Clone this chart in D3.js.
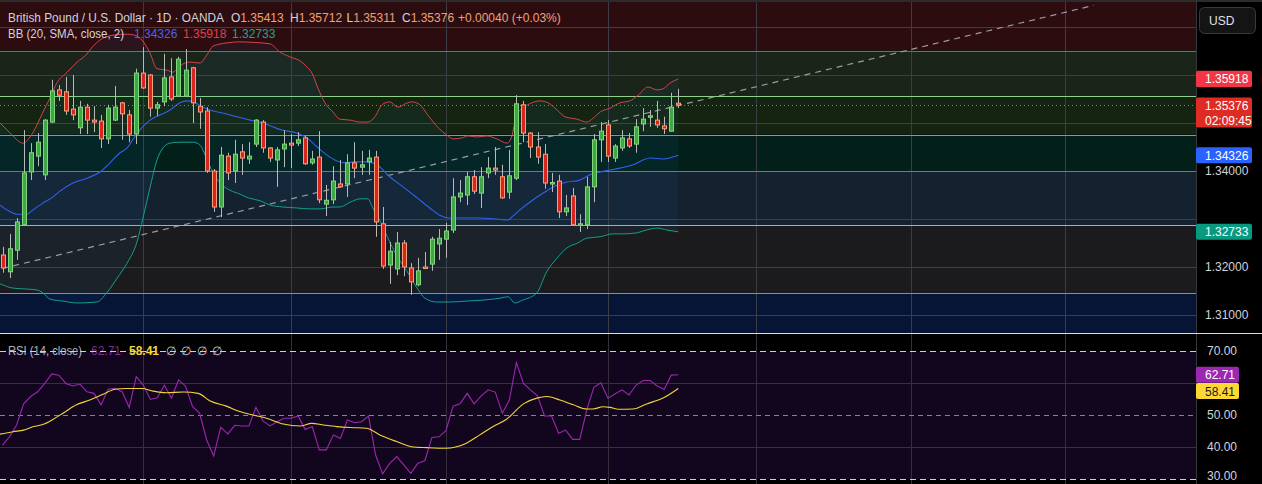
<!DOCTYPE html>
<html><head><meta charset="utf-8">
<script src="https://cdn.jsdelivr.net/npm/d3@7"></script>
<style>
html,body{margin:0;padding:0;background:#000;overflow:hidden}
svg{display:block}
text{font-family:"Liberation Sans",Arial,sans-serif}
</style>
</head><body>
<svg id="c" width="1262" height="484"></svg>
<script>
// ---------- DATA ----------
const opens=[1.3225,1.3190,1.3235,1.3288,1.3398,1.3431,1.3392,1.3502,1.3569,1.3565,1.3529,1.3490,1.3533,1.3506,1.3504,1.3467,1.3506,1.3542,1.3517,1.3477,1.3604,1.3600,1.3531,1.3544,1.3596,1.3556,1.3556,1.3615,1.3535,1.3525,1.3400,1.3325,1.3431,1.3400,1.3440,1.3425,1.3456,1.3502,1.3448,1.3423,1.3446,1.3458,1.3458,1.3469,1.3417,1.3429,1.3331,1.3340,1.3373,1.3373,1.3417,1.3408,1.3419,1.3429,1.3290,1.3204,1.3196,1.3250,1.3198,1.3163,1.3200,1.3206,1.3248,1.3258,1.3277,1.3346,1.3350,1.3388,1.3354,1.3396,1.3406,1.3388,1.3356,1.3385,1.3538,1.3479,1.3450,1.3435,1.3374,1.3379,1.3315,1.3348,1.3288,1.3288,1.3367,1.3465,1.3496,1.3427,1.3448,1.3467,1.3456,1.3498,1.3514,1.3506,1.3494,1.3483,1.35413];
const highs=[1.3242,1.3269,1.3302,1.3485,1.3458,1.3479,1.3508,1.3590,1.3579,1.3596,1.3600,1.3546,1.3540,1.3535,1.3517,1.3538,1.3577,1.3544,1.3527,1.3613,1.3658,1.3602,1.3544,1.3644,1.3635,1.3638,1.3654,1.3617,1.3552,1.3533,1.3404,1.3450,1.3438,1.3465,1.3456,1.3460,1.3508,1.3506,1.3450,1.3450,1.3485,1.3477,1.3481,1.3473,1.3442,1.3483,1.3371,1.3410,1.3423,1.3435,1.3460,1.3442,1.3444,1.3442,1.3325,1.3252,1.3273,1.3256,1.3208,1.3219,1.3231,1.3263,1.3279,1.3292,1.3385,1.3381,1.3398,1.3402,1.3408,1.3429,1.3450,1.3413,1.3444,1.3558,1.3546,1.3481,1.3481,1.3456,1.3396,1.3392,1.3350,1.3365,1.3310,1.3388,1.3477,1.3502,1.3506,1.3456,1.3485,1.3479,1.3508,1.3531,1.3527,1.3546,1.3513,1.3563,1.35712];
const lows=[1.3188,1.3177,1.3215,1.3286,1.3381,1.3410,1.3381,1.3500,1.3546,1.3517,1.3506,1.3477,1.3477,1.3481,1.3448,1.3456,1.3504,1.3465,1.3460,1.3456,1.3571,1.3513,1.3515,1.3535,1.3546,1.3554,1.3554,1.3500,1.3488,1.3396,1.3315,1.3304,1.3381,1.3375,1.3392,1.3415,1.3450,1.3438,1.3419,1.3367,1.3408,1.3406,1.3452,1.3413,1.3413,1.3333,1.3306,1.3331,1.3365,1.3346,1.3385,1.3392,1.3392,1.3263,1.3196,1.3165,1.3183,1.3181,1.3142,1.3160,1.3196,1.3192,1.3215,1.3219,1.3271,1.3335,1.3329,1.3352,1.3323,1.3385,1.3392,1.3342,1.3342,1.3381,1.3460,1.3427,1.3415,1.3363,1.3356,1.3302,1.3306,1.3287,1.3273,1.3279,1.3335,1.3419,1.3419,1.3419,1.3442,1.3448,1.3438,1.3483,1.3492,1.3490,1.3477,1.3482,1.35311];
const closes=[1.3198,1.3238,1.3294,1.3396,1.3438,1.3460,1.3506,1.3567,1.3558,1.3525,1.3517,1.3533,1.3506,1.3502,1.3467,1.3531,1.3533,1.3519,1.3477,1.3604,1.3573,1.3531,1.3538,1.3594,1.3550,1.3633,1.3610,1.3542,1.3523,1.3400,1.3325,1.3433,1.3396,1.3435,1.3427,1.3431,1.3506,1.3448,1.3427,1.3444,1.3456,1.3454,1.3465,1.3415,1.3425,1.3340,1.3339,1.3379,1.3367,1.3417,1.3406,1.3413,1.3427,1.3294,1.3202,1.3233,1.3250,1.3200,1.3169,1.3192,1.3198,1.3258,1.3260,1.3275,1.3346,1.3354,1.3388,1.3358,1.3388,1.3406,1.3402,1.3344,1.3390,1.3540,1.3479,1.3450,1.3429,1.3375,1.3376,1.3315,1.3323,1.3288,1.3290,1.3367,1.3465,1.3483,1.3431,1.3452,1.3469,1.3452,1.3492,1.3508,1.3515,1.3496,1.3488,1.3533,1.35376];

// Bollinger Bands (20, SMA, close, 2): [bar index, price]
const bbUpper=[[-0.36,1.3500],[1.1,1.3479],[2.5,1.3460],[2.9,1.3458],[3.9,1.3471],[4.9,1.3496],[5.75,1.3523],[6.75,1.3552],[7.7,1.3583],[9.2,1.3606],[10.6,1.3627],[12.0,1.3644],[12.4,1.3652],[13.85,1.3673],[15.7,1.3683],[17.7,1.3685],[18.8,1.3683],[19.8,1.3673],[20.95,1.3646],[21.95,1.3613],[23.4,1.3610],[24.2,1.3606],[25.2,1.3619],[26.6,1.3627],[28.05,1.3625],[29.05,1.3642],[29.9,1.3660],[31.9,1.3667],[33.7,1.3669],[35.6,1.3668],[38.0,1.3665],[39.4,1.3648],[40.8,1.3638],[42.3,1.3629],[43.1,1.3619],[43.96,1.3604],[44.8,1.3573],[45.8,1.3542],[46.95,1.3523],[47.9,1.3508],[49.4,1.3506],[50.8,1.3502],[51.9,1.3502],[52.9,1.3513],[53.9,1.3538],[55.0,1.3544],[56.2,1.3533],[57.2,1.3540],[58.2,1.3544],[59.3,1.3538],[60.4,1.3517],[61.9,1.3490],[63.1,1.3475],[64.0,1.3467],[65.3,1.3469],[66.1,1.3473],[67.4,1.3471],[68.8,1.3473],[70.2,1.3467],[71.7,1.3458],[72.4,1.3475],[72.9,1.3510],[73.8,1.3531],[74.6,1.3538],[76.35,1.3546],[77.5,1.3542],[78.8,1.3527],[79.9,1.3513],[81.6,1.3508],[83.0,1.3502],[83.9,1.3510],[84.9,1.3523],[86.3,1.3531],[87.7,1.3542],[89.1,1.3546],[90.3,1.3558],[91.7,1.3575],[93.0,1.3569],[93.8,1.3571],[94.8,1.3583],[96,1.35918]];
const bbMiddle=[[-0.36,1.3329],[0.64,1.3319],[2.06,1.3310],[3.48,1.3310],[4.33,1.3319],[5.75,1.3333],[7.17,1.3346],[8.17,1.3358],[10.0,1.3375],[12.0,1.3385],[13.85,1.3398],[15.27,1.3417],[16.7,1.3438],[17.7,1.3448],[18.5,1.3465],[19.5,1.3485],[20.95,1.3506],[22.4,1.3517],[23.8,1.3527],[25.2,1.3542],[26.2,1.3546],[27.1,1.3544],[28.5,1.3533],[29.9,1.3525],[31.3,1.3521],[33.3,1.3513],[35.2,1.3506],[37.0,1.3500],[38.4,1.3492],[39.8,1.3485],[41.8,1.3479],[43.25,1.3469],[44.7,1.3450],[46.1,1.3433],[47.5,1.3421],[48.9,1.3417],[49.8,1.3419],[51.8,1.3419],[53.2,1.3413],[55.0,1.3388],[56.9,1.3367],[58.9,1.3344],[60.7,1.3323],[62.1,1.3308],[63.6,1.3302],[65.4,1.3302],[67.8,1.3302],[70.2,1.3300],[71.8,1.3298],[72.5,1.3306],[73.5,1.3319],[74.9,1.3335],[76.8,1.3354],[78.8,1.3371],[80.2,1.3377],[82.0,1.3381],[83.45,1.3392],[84.9,1.3398],[86.3,1.3402],[87.7,1.3406],[89.6,1.3413],[91.0,1.3423],[92.0,1.3427],[93.8,1.3425],[96,1.34326]];
const bbLower=[[-0.36,1.3165],[1.5,1.3156],[3.5,1.3154],[4.9,1.3152],[5.75,1.3146],[6.75,1.3133],[8.6,1.3129],[10.6,1.3125],[13.4,1.3127],[14.8,1.3146],[16.3,1.3177],[17.7,1.3208],[19.1,1.3252],[19.96,1.3302],[20.95,1.3365],[21.95,1.3423],[22.8,1.3448],[23.8,1.3458],[25.2,1.3460],[27.1,1.3460],[28.05,1.3454],[28.8,1.3433],[29.9,1.3396],[30.9,1.3375],[32.3,1.3360],[33.7,1.3352],[34.9,1.3344],[36.6,1.3338],[38.0,1.3329],[39.8,1.3325],[41.8,1.3323],[43.7,1.3321],[45.1,1.3321],[46.95,1.3325],[47.9,1.3325],[49.4,1.3335],[50.8,1.3342],[51.9,1.3342],[52.6,1.3323],[53.9,1.3288],[55.0,1.3252],[56.2,1.3219],[57.5,1.3190],[58.9,1.3156],[60.0,1.3135],[61.7,1.3127],[63.6,1.3127],[66.0,1.3129],[68.25,1.3131],[70.7,1.3135],[71.8,1.3138],[72.8,1.3125],[73.9,1.3131],[75.9,1.3146],[77.3,1.3190],[78.8,1.3219],[80.2,1.3240],[81.7,1.3250],[83.0,1.3260],[84.9,1.3263],[86.7,1.3269],[88.1,1.3269],[90.1,1.3271],[91.0,1.3275],[93.0,1.3281],[94.4,1.3277],[96,1.32733]];

// RSI (14, close) per bar, and its moving average [bar index, value]
const rsiValues=[40.7,43.3,47.0,53.6,55.9,57.4,60.0,63.0,62.6,60.0,59.2,59.8,57.4,56.9,53.3,58.2,58.5,57.4,52.5,62.1,59.5,55.0,55.5,59.5,55.4,61.1,59.2,52.7,50.7,42.3,37.3,46.3,44.2,46.9,46.7,46.7,52.5,48.3,46.7,48.0,49.1,49.1,49.8,45.6,46.5,39.2,39.2,43.9,42.8,48.6,47.7,48.0,49.8,37.6,31.7,35.0,37.1,34.5,31.9,35.0,35.8,43.1,43.3,45.2,52.9,53.6,56.9,53.6,56.1,58.0,57.3,50.7,54.8,66.5,60.0,58.0,56.1,49.8,49.8,44.4,45.4,42.5,42.5,51.7,58.8,60.2,55.4,56.7,58.0,56.4,59.5,60.9,60.9,59.2,58.2,62.6,62.71];
const rsiMA=[[-0.4,44.1],[1.5,44.9],[3,45.4],[4.4,46.5],[5.8,47.2],[7.2,48.8],[8.6,50.7],[10.5,53.3],[12.4,54.8],[14.3,56.6],[16,58.2],[17.6,58.4],[19.8,58.4],[21.4,57.6],[23.3,57.1],[25.7,57.3],[27.8,56.9],[29.5,54.5],[31.8,52.9],[33.7,51.2],[35.6,50.1],[37.5,49.1],[39.9,47.3],[42.3,46.7],[43.9,47.5],[45.6,47.0],[47.5,46.5],[49.4,46.2],[51.7,46.0],[53.6,43.9],[56,41.8],[58.1,40.2],[60.3,39.9],[62.9,39.7],[65.9,41.3],[67.8,43.9],[69.7,46.5],[71.6,48.8],[74,53.6],[75.9,55.4],[77.3,55.9],[79.2,54.8],[81.1,53.3],[83,52.0],[83.9,52.0],[85.3,52.7],[86.3,52.5],[87.5,51.9],[89.6,52.0],[91.5,53.6],[93.9,55.5],[96,58.41]];

// horizontal levels (drawing), trend line, ticks
const levels=[1.3651,1.3556,1.3476,1.3400,1.3287,1.3145];
const levelColors=["#c9484d","#8fd18b","#5cb865","#2a9d8c","#7fbbe6","#8d8f96"];
const bandFills=["#2d0c10","#1b2419","#142410","#031f1a","#14212e","#1b1b1d","#061436"];
const trendLine=[[0,1.3197],[155,1.3745]];
const monthTicks=[20,41,63,86,107,129,151];
const priceTicks=[1.31,1.32,1.33,1.34,1.35,1.36,1.37];
const rsiTicks=[30,40,50,60,70];
const rsiGrid=[40,60];
const bbLast={mid:1.34326,up:1.35918,low:1.32733};
const rsiMALast=58.41;
const ohlcLast={o:"1.35413",h:"1.35712",l:"1.35311",c:"1.35376",chg:"+0.00040 (+0.03%)"};

// ---------- LAYOUT ----------
const W=1262,H=484,PR=1196,MB=333,RT=334;
const svg=d3.select("#c");
const x=d3.scaleLinear().domain([0,96]).range([2.5,678.3]);
const y=d3.scaleLinear().domain([1.30625,1.375625]).range([MB,0]);
const yr=d3.scaleLinear().domain([28.53,75.16]).range([H,335]);
const fmt5=d3.format(".5f"), fmt2=d3.format(".2f");

svg.append("rect").attr("width",W).attr("height",H).attr("fill","#000");
const defs=svg.append("defs");
defs.append("clipPath").attr("id","mainClip").append("rect").attr("x",0).attr("y",0).attr("width",PR).attr("height",MB);
defs.append("clipPath").attr("id","rsiClip").append("rect").attr("x",0).attr("y",RT).attr("width",PR).attr("height",H-RT);

// ---------- MAIN PANE ----------
const main=svg.append("g").attr("clip-path","url(#mainClip)");
const bounds=[y.domain()[1],...levels,y.domain()[0]];
bandFills.forEach((c,i)=>{
  const y0=y(bounds[i]),y1=y(bounds[i+1]);
  main.append("rect").attr("x",0).attr("y",y0).attr("width",PR).attr("height",y1-y0).attr("fill",c);
});
main.selectAll(".hg").data(priceTicks).enter().append("line")
  .attr("x1",0).attr("x2",PR).attr("y1",d=>Math.round(y(d))+0.5).attr("y2",d=>Math.round(y(d))+0.5)
  .attr("stroke","#3c3f46").attr("stroke-width",1);
main.selectAll(".vg").data(monthTicks).enter().append("line")
  .attr("x1",d=>Math.round(x(d))+0.5).attr("x2",d=>Math.round(x(d))+0.5).attr("y1",0).attr("y2",MB)
  .attr("stroke","#3a3d44").attr("stroke-width",1);
main.selectAll(".lv").data(levels).enter().append("line")
  .attr("x1",0).attr("x2",PR).attr("y1",d=>Math.round(y(d))+0.5).attr("y2",d=>Math.round(y(d))+0.5)
  .attr("stroke",(d,i)=>levelColors[i]).attr("stroke-width",1.2);

const lin=d3.line().x(d=>x(d[0])).y(d=>y(d[1]));
main.append("path").attr("d",lin(bbUpper.concat(bbLower.slice().reverse()))+"Z")
  .attr("fill","rgba(33,150,243,0.06)");
main.append("path").attr("d",lin(trendLine)).attr("stroke","#9a9ba0").attr("stroke-width",1.2)
  .attr("stroke-dasharray","6,5").attr("fill","none");
const curve=d3.line().x(d=>x(d[0])).y(d=>y(d[1])).curve(d3.curveMonotoneX);
main.append("path").attr("d",curve(bbUpper)).attr("stroke","#d4434b").attr("fill","none").attr("stroke-width",1);
main.append("path").attr("d",curve(bbMiddle)).attr("stroke","#2f62f0").attr("fill","none").attr("stroke-width",1.1);
main.append("path").attr("d",curve(bbLower)).attr("stroke","#12a08a").attr("fill","none").attr("stroke-width",1);
main.append("line").attr("x1",0).attr("x2",PR).attr("y1",Math.round(y(closes[96]))+0.5).attr("y2",Math.round(y(closes[96]))+0.5)
  .attr("stroke","#ea5a30").attr("stroke-dasharray","1,3").attr("stroke-width",1);

const bars=opens.map((o,i)=>({i,o,h:highs[i],l:lows[i],c:closes[i]}));
const cg=main.append("g");
const cx=d=>Math.round(x(d.i))+0.5;
cg.selectAll(".wk").data(bars).enter().append("line")
  .attr("x1",cx).attr("x2",cx).attr("y1",d=>y(d.h)).attr("y2",d=>y(d.l))
  .attr("stroke","#b9b9b9").attr("stroke-width",1);
cg.selectAll(".bd").data(bars).enter().append("rect")
  .attr("x",d=>cx(d)-2).attr("width",4)
  .attr("y",d=>Math.min(y(d.o),y(d.c)))
  .attr("height",d=>Math.max(1.5,Math.abs(y(d.o)-y(d.c))))
  .attr("fill",d=>d.c>=d.o?"#3fa845":"#d8261c")
  .attr("stroke",d=>d.c>=d.o?"#82d67c":"#f7a07c").attr("stroke-width",1);

// header legend
const hd=svg.append("g").attr("font-size",12);
const t1=hd.append("text").attr("y",21.5);
t1.append("tspan").attr("x",8).attr("fill","#d1d4dc").attr("textLength",216).attr("lengthAdjust","spacingAndGlyphs")
  .text("British Pound / U.S. Dollar · 1D · OANDA");
[["O",231,ohlcLast.o],["H",290,ohlcLast.h],["L",346.5,ohlcLast.l],["C",402,ohlcLast.c]].forEach(([k,px,v])=>{
  t1.append("tspan").attr("x",px).attr("fill","#d1d4dc").text(k);
  t1.append("tspan").attr("fill","#f0a174").text(v);
});
t1.append("tspan").attr("x",458).attr("fill","#f0a174").text(ohlcLast.chg);
const t2=hd.append("text").attr("y",38);
t2.append("tspan").attr("x",8).attr("fill","#d1d4dc").attr("textLength",116).attr("lengthAdjust","spacingAndGlyphs")
  .text("BB (20, SMA, close, 2)");
t2.append("tspan").attr("x",134).attr("fill","#4a63e8").text(fmt5(bbLast.mid));
t2.append("tspan").attr("x",183).attr("fill","#e0404d").text(fmt5(bbLast.up));
t2.append("tspan").attr("x",232).attr("fill","#22a38f").text(fmt5(bbLast.low));

// ---------- RSI PANE ----------
const rp=svg.append("g").attr("clip-path","url(#rsiClip)");
rp.append("rect").attr("x",0).attr("y",RT).attr("width",PR).attr("height",H-RT).attr("fill","#000");
rp.append("rect").attr("x",0).attr("y",yr(70)).attr("width",PR).attr("height",yr(30)-yr(70)).attr("fill","#12061e");
rp.selectAll(".rg").data(rsiGrid).enter().append("line")
  .attr("x1",0).attr("x2",PR).attr("y1",d=>Math.round(yr(d))+0.5).attr("y2",d=>Math.round(yr(d))+0.5)
  .attr("stroke","#372e46");
rp.selectAll(".rv").data(monthTicks).enter().append("line")
  .attr("x1",d=>Math.round(x(d))+0.5).attr("x2",d=>Math.round(x(d))+0.5).attr("y1",RT).attr("y2",H)
  .attr("stroke","#33303b");
const t3=rp.append("text").attr("y",355).attr("font-size",12);
t3.append("tspan").attr("x",8).attr("fill","#b2b5be").attr("textLength",74).attr("lengthAdjust","spacingAndGlyphs").text("RSI (14, close)");
t3.append("tspan").attr("x",91).attr("fill","#7e2a95").text(fmt2(rsiValues[96]));
t3.append("tspan").attr("x",129).attr("fill","#f3d43a").attr("font-weight","bold").text(fmt2(rsiMALast));
["∅","∅","∅","∅"].forEach((s,i)=>t3.append("tspan").attr("x",166+i*15.3).attr("fill","#c8c8c8").text(s));
[[70,"#cfcfd4","6,4"],[50,"#85848f","5,4"],[30,"#cfcfd4","6,4"]].forEach(([v,c,da])=>{
  rp.append("line").attr("x1",0).attr("x2",PR).attr("y1",Math.round(yr(v))+0.5).attr("y2",Math.round(yr(v))+0.5)
    .attr("stroke",c).attr("stroke-dasharray",da);
});
rp.append("path").attr("d",d3.line().x((d,i)=>x(i)).y(d=>yr(d))(rsiValues))
  .attr("stroke","#9c27b0").attr("stroke-width",1.1).attr("fill","none");
rp.append("path").attr("d",d3.line().x(d=>x(d[0])).y(d=>yr(d[1])).curve(d3.curveMonotoneX)(rsiMA))
  .attr("stroke","#f2d53c").attr("stroke-width",1.1).attr("fill","none");

// ---------- AXES ----------
svg.append("rect").attr("x",0).attr("y",0).attr("width",W).attr("height",2).attr("fill","#2c2c2e");
svg.append("rect").attr("x",PR+1).attr("y",2).attr("width",W-PR-1).attr("height",H).attr("fill","#000");
svg.append("line").attr("x1",PR+0.5).attr("x2",PR+0.5).attr("y1",0).attr("y2",H).attr("stroke","#33363d");
svg.append("line").attr("x1",0).attr("x2",W).attr("y1",MB+0.5).attr("y2",MB+0.5).attr("stroke","#dcdcdc");

const priceTags=[
  {yc:y(bbLast.up), h:16.5, fill:"#f23645", lines:[fmt5(bbLast.up)]},
  {yc:y(closes[96])+7.5, h:30, fill:"#de2b24", lines:[fmt5(closes[96]),"02:09:45"]},
  {yc:y(bbLast.mid), h:16, fill:"#2962ff", lines:[fmt5(bbLast.mid)]},
  {yc:y(bbLast.low), h:16, fill:"#089981", lines:[fmt5(bbLast.low)]}
];
const rsiTags=[
  {yc:yr(rsiValues[96]), h:16, fill:"#9c27b0", lines:[fmt2(rsiValues[96])]},
  {yc:yr(rsiMALast)+2.5, h:16, fill:"#fdd835", lines:[fmt2(rsiMALast)], tc:"#131722"}
];
const usdBox={y0:7.5,y1:33.5};
const free=(yy,tags)=>tags.every(t=>Math.abs(yy-t.yc)>t.h/2+5) && !(yy>usdBox.y0-6 && yy<usdBox.y1+6);

const ax=svg.append("g").attr("font-size",12).attr("fill","#d1d4dc");
ax.selectAll(".pt").data(priceTicks.filter(d=>free(y(d),priceTags))).enter().append("text")
  .attr("x",1205).attr("y",d=>y(d)+4).text(d=>fmt5(d));
ax.selectAll(".rt").data(rsiTicks.filter(d=>free(yr(d),rsiTags))).enter().append("text")
  .attr("x",1207).attr("y",d=>Math.min(yr(d)+4,H-4)).text(d=>fmt2(d));

function tag(t,w){
  const g=svg.append("g");
  g.append("rect").attr("x",PR).attr("y",t.yc-t.h/2).attr("width",w).attr("height",t.h).attr("rx",2).attr("fill",t.fill);
  t.lines.forEach((s,k)=>g.append("text").attr("x",PR+9).attr("y",t.yc-t.h/2+12.5+k*15).attr("font-size",12).attr("fill",t.tc||"#fff").text(s));
}
priceTags.forEach(t=>tag(t,56));
rsiTags.forEach(t=>tag(t,43));

svg.append("rect").attr("x",1199.5).attr("y",usdBox.y0).attr("width",56).attr("height",usdBox.y1-usdBox.y0).attr("rx",5)
  .attr("fill","#141414").attr("stroke","#3a3a3c");
svg.append("text").attr("x",1209).attr("y",25).attr("font-size",12).attr("fill","#e0e3eb").text("USD");
</script>
</body></html>
